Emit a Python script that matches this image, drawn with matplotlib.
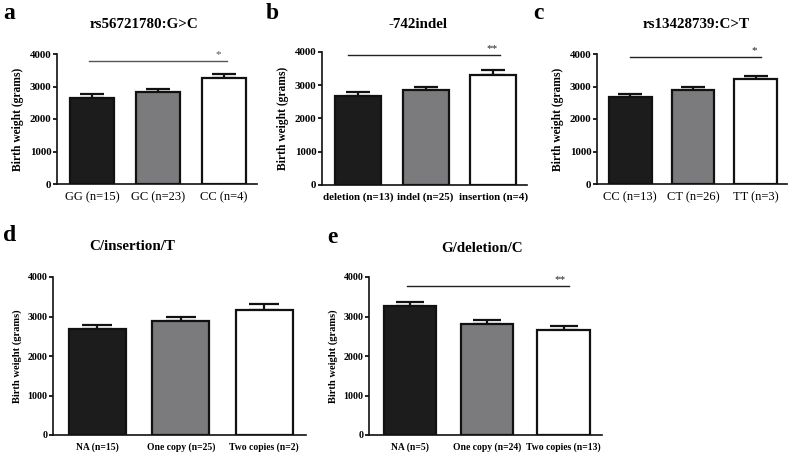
import matplotlib
matplotlib.use('Agg')
import matplotlib.pyplot as plt
import numpy as np

plt.rcParams['font.family'] = 'Liberation Serif'

# panel data (means and upper SEM)
titles = ['rs56721780:G>C', '-742indel', 'rs13428739:C>T', 'C/insertion/T', 'G/deletion/C']
letters = ['a', 'b', 'c', 'd', 'e']
labels_a = ['GG (n=15)', 'GC (n=23)', 'CC (n=4)']
labels_b = ['deletion (n=13)', 'indel (n=25)', 'insertion (n=4)']
labels_c = ['CC (n=13)', 'CT (n=26)', 'TT (n=3)']
labels_d = ['NA (n=15)', 'One copy (n=25)', 'Two copies (n=2)']
labels_e = ['NA (n=5)', 'One copy (n=24)', 'Two copies (n=13)']
means_a = [2660, 2840, 3250]
means_b = [2667, 2847, 3318]
means_c = [2663, 2879, 3218]
means_d = [2686, 2897, 3166]
means_e = [3276, 2813, 2653]
err_a = [100, 93, 135]
err_b = [120, 90, 131]
err_c = [103, 93, 103]
err_d = [93, 92, 152]
err_e = [101, 109, 118]
# significance bars: (x start, x end, y, text)
sig_a = (-0.04, 2.04, 3785, '*')
sig_b = (-0.14, 2.10, 3900, '**')
sig_c = (0.0, 2.09, 3897, '*')
sig_d = None
sig_e = (-0.04, 2.07, 3764, '**')

colors = ['#1c1c1c', '#7b7b7d', 'white']
W, H = 800, 453

fig = plt.figure(figsize=(8, 4.53), dpi=100)

# axes boxes in pixels: left, right, top, bottom
boxes = [(57, 257, 54, 184), (322, 527, 52, 185), (597, 787, 54, 184),
         (53, 306, 277, 435), (369, 602, 277, 435)]
title_pos = [(144, 25), (418, 25), (696, 25), (132, 247), (482, 248)]
letter_pos = [(3, 19), (266, 19), (533, 19), (3, 241), (327, 243)]
sig_col = ['#555555', '#222222', '#222222', None, '#222222']
# x label styling differs a bit from panel to panel
xlab_size = [9, 7.8, 9, 6.9, 6.9]
xlab_weight = ['normal', 'bold', 'normal', 'bold', 'bold']
ylab_size = [8.3, 8.3, 8.3, 7.6, 7.6]
ytick_size = [7.8, 7.8, 7.8, 7.2, 7.2]

panels = [(labels_a, means_a, err_a, sig_a), (labels_b, means_b, err_b, sig_b),
          (labels_c, means_c, err_c, sig_c), (labels_d, means_d, err_d, sig_d),
          (labels_e, means_e, err_e, sig_e)]

for i, (labels, means, errs, sig) in enumerate(panels):
    l, r, t, b = boxes[i]
    ax = fig.add_axes([l / W, 1 - b / H, (r - l) / W, (b - t) / H])
    x = np.arange(3)
    bw = 0.68
    ax.bar(x, means, width=bw, color=colors, edgecolor='#111111', linewidth=1.6, zorder=2)
    unit_px = (r - l) / 3.03
    cap = 0.27 * bw * unit_px * 0.72
    ax.errorbar(x, means, yerr=[[0, 0, 0], errs], fmt='none', ecolor='#111111',
                elinewidth=1.6, capsize=cap, capthick=1.6, zorder=1)
    ax.set_xlim(-0.53, 2.5)
    ax.set_ylim(0, 4000)
    ax.set_yticks([0, 1000, 2000, 3000, 4000])
    ax.set_xticks(x)
    ax.set_xticklabels(labels, fontsize=xlab_size[i], fontweight=xlab_weight[i])
    ax.tick_params(axis='x', length=0, pad=5)
    ax.tick_params(axis='y', length=3, width=1.2, labelsize=ytick_size[i], pad=1)
    for lab in ax.get_yticklabels():
        lab.set_fontweight('bold')
    for s in ['top', 'right']:
        ax.spines[s].set_visible(False)
    for s in ['left', 'bottom']:
        ax.spines[s].set_linewidth(1.2)
        ax.spines[s].set_color('#111111')
    ax.set_ylabel('Birth weight (grams)', fontsize=ylab_size[i], fontweight='bold', labelpad=4)
    if sig is not None:
        x0, x1, y, txt = sig
        ax.plot([x0, x1], [y, y], color=sig_col[i], lw=1.0, clip_on=False)
        ax.text(x1 - 0.12, y + 60, txt, ha='center', va='bottom', fontsize=8,
                color=sig_col[i], clip_on=False)
    tx, ty = title_pos[i]
    fig.text(tx / W, 1 - ty / H, titles[i], ha='center', va='center',
             fontsize=10.8, fontweight='bold')
    lx, ly = letter_pos[i]
    fig.text(lx / W, 1 - ly / H, letters[i], ha='left', va='baseline',
             fontsize=17, fontweight='bold')

fig.savefig('out.png', dpi=100)
